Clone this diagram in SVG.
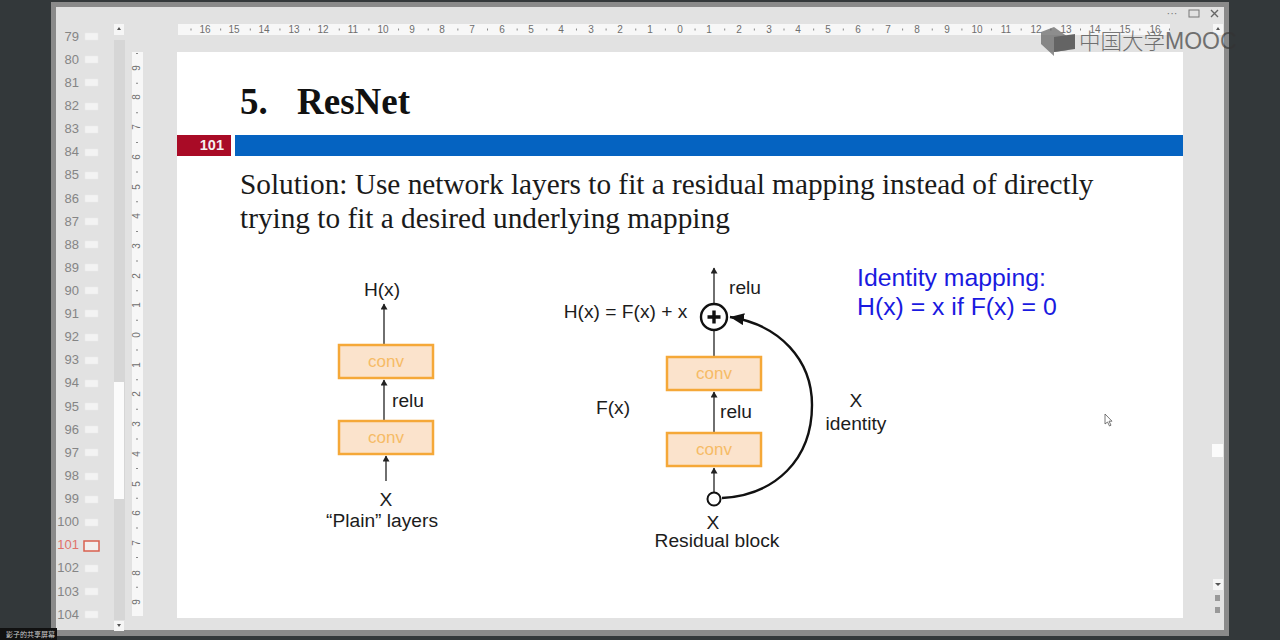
<svg xmlns="http://www.w3.org/2000/svg" width="1280" height="640" viewBox="0 0 1280 640">
<style>
.s{font-family:"Liberation Sans",Arial,sans-serif}
.num{font-family:"Liberation Sans",Arial,sans-serif;font-size:13px;fill:#858585;text-anchor:end}
.th{fill:#f3f3f3;stroke:#e9e9e9;stroke-width:.5}
.rt{font-family:"Liberation Sans",Arial,sans-serif;font-size:10px;fill:#6e6e6e;text-anchor:middle}
.lb{font-family:"Liberation Sans",Arial,sans-serif;font-size:19.2px;fill:#1c1c1c;text-anchor:middle}
.conv{fill:#fbe3cc;stroke:#f5a838;stroke-width:2.5}
.ct{font-family:"Liberation Sans",Arial,sans-serif;font-size:17px;fill:#f6bb66;text-anchor:middle}
.ln{stroke:#333;stroke-width:1.4;fill:none}
.body{font-family:"Liberation Serif","Times New Roman",serif;font-size:29.3px;fill:#1a1a1a}
</style>
<defs>
<marker id="a" markerWidth="7" markerHeight="8" refX="5.5" refY="3.5" orient="auto" markerUnits="userSpaceOnUse"><path d="M0 0L6 3.5L0 7z" fill="#222"/></marker>
<marker id="b" markerWidth="16" markerHeight="14" refX="14" refY="6" orient="auto" markerUnits="userSpaceOnUse"><path d="M0 0L14 6L0 12z" fill="#111"/></marker>
</defs>
<rect width="1280" height="640" fill="#33383a"/>
<g id="window">
<rect x="51" y="2" width="1178" height="634" fill="#8a8a8a"/>
<rect x="56" y="7" width="1168" height="623" fill="#e2e2e2"/>
<rect x="114" y="40" width="11" height="580" fill="#d6d6d6"/>
<rect x="114" y="382" width="10" height="117" fill="#fbfbfb"/>
<rect x="114" y="24" width="10" height="11" fill="#f6f6f6"/>
<rect x="114" y="621" width="10" height="10" fill="#f6f6f6"/>
<path d="M117 30l2-3 2 3zM117 624l2 3 2-3z" fill="#555"/>
<rect x="1212" y="444" width="11" height="13" fill="#fbfbfb"/>
<rect x="1213" y="579" width="10" height="11" fill="#f6f6f6"/>
<path d="M1215 583l3 3 3-3z" fill="#555"/>
<path d="M1215 595h5v6h-5zM1215 607h5v6h-5z" fill="#999"/>
<rect x="1213" y="24" width="10" height="11" fill="#f6f6f6"/>
<path d="M1216 30l2-3 2 3z" fill="#555"/>
<text x="1172" y="17" class="s" font-size="11" fill="#777" text-anchor="middle">···</text>
<rect x="1189" y="10" width="10" height="7" fill="none" stroke="#777"/>
<path d="M1211 10l7 7M1218 10l-7 7" stroke="#666" stroke-width="1.4"/>
</g>
<g id="thumbnails">
<text class="num" x="79" y="41">79</text><rect class="th" x="85" y="33" width="13" height="7"/>
<text class="num" x="79" y="64">80</text><rect class="th" x="85" y="56" width="13" height="7"/>
<text class="num" x="79" y="87">81</text><rect class="th" x="85" y="79" width="13" height="7"/>
<text class="num" x="79" y="110">82</text><rect class="th" x="85" y="103" width="13" height="7"/>
<text class="num" x="79" y="133">83</text><rect class="th" x="85" y="126" width="13" height="7"/>
<text class="num" x="79" y="156">84</text><rect class="th" x="85" y="149" width="13" height="7"/>
<text class="num" x="79" y="179">85</text><rect class="th" x="85" y="172" width="13" height="7"/>
<text class="num" x="79" y="203">86</text><rect class="th" x="85" y="195" width="13" height="7"/>
<text class="num" x="79" y="226">87</text><rect class="th" x="85" y="218" width="13" height="7"/>
<text class="num" x="79" y="249">88</text><rect class="th" x="85" y="241" width="13" height="7"/>
<text class="num" x="79" y="272">89</text><rect class="th" x="85" y="264" width="13" height="7"/>
<text class="num" x="79" y="295">90</text><rect class="th" x="85" y="287" width="13" height="7"/>
<text class="num" x="79" y="318">91</text><rect class="th" x="85" y="310" width="13" height="7"/>
<text class="num" x="79" y="341">92</text><rect class="th" x="85" y="334" width="13" height="7"/>
<text class="num" x="79" y="364">93</text><rect class="th" x="85" y="357" width="13" height="7"/>
<text class="num" x="79" y="387">94</text><rect class="th" x="85" y="380" width="13" height="7"/>
<text class="num" x="79" y="411">95</text><rect class="th" x="85" y="403" width="13" height="7"/>
<text class="num" x="79" y="434">96</text><rect class="th" x="85" y="426" width="13" height="7"/>
<text class="num" x="79" y="457">97</text><rect class="th" x="85" y="449" width="13" height="7"/>
<text class="num" x="79" y="480">98</text><rect class="th" x="85" y="473" width="13" height="7"/>
<text class="num" x="79" y="503">99</text><rect class="th" x="85" y="496" width="13" height="7"/>
<text class="num" x="79" y="526">100</text><rect class="th" x="85" y="519" width="13" height="7"/>
<text class="num" x="79" y="549" style="fill:#e0736a">101</text><rect x="84" y="541" width="15" height="10" fill="#f2efee" stroke="#d9604f" stroke-width="1.5"/>
<text class="num" x="79" y="572">102</text><rect class="th" x="85" y="565" width="13" height="7"/>
<text class="num" x="79" y="596">103</text><rect class="th" x="85" y="588" width="13" height="7"/>
<text class="num" x="79" y="619">104</text><rect class="th" x="85" y="611" width="13" height="7"/>
</g>
<g id="ruler-top">
<rect x="178" y="24" width="992" height="11" fill="#f7f7f7"/>
<path d="M190.500 29.500H1170" stroke="#888" stroke-width="2" stroke-dasharray="1 28.65" fill="none"/>
<text class="rt" x="205" y="33">16</text><text class="rt" x="234" y="33">15</text><text class="rt" x="264" y="33">14</text><text class="rt" x="294" y="33">13</text><text class="rt" x="323" y="33">12</text><text class="rt" x="353" y="33">11</text><text class="rt" x="383" y="33">10</text><text class="rt" x="412" y="33">9</text><text class="rt" x="442" y="33">8</text><text class="rt" x="472" y="33">7</text><text class="rt" x="502" y="33">6</text><text class="rt" x="531" y="33">5</text><text class="rt" x="561" y="33">4</text><text class="rt" x="591" y="33">3</text><text class="rt" x="620" y="33">2</text><text class="rt" x="650" y="33">1</text><text class="rt" x="680" y="33">0</text><text class="rt" x="709" y="33">1</text><text class="rt" x="739" y="33">2</text><text class="rt" x="769" y="33">3</text><text class="rt" x="798" y="33">4</text><text class="rt" x="828" y="33">5</text><text class="rt" x="858" y="33">6</text><text class="rt" x="888" y="33">7</text><text class="rt" x="917" y="33">8</text><text class="rt" x="947" y="33">9</text><text class="rt" x="977" y="33">10</text><text class="rt" x="1006" y="33">11</text><text class="rt" x="1036" y="33">12</text><text class="rt" x="1066" y="33">13</text><text class="rt" x="1095" y="33">14</text><text class="rt" x="1125" y="33">15</text><text class="rt" x="1155" y="33">16</text>
</g>
<g id="ruler-left">
<rect x="132" y="52" width="11" height="564" fill="#f7f7f7"/>
<path d="M137 53V616" stroke="#888" stroke-width="2" stroke-dasharray="1 28.65" fill="none"/>
<text class="rt" transform="translate(140 68) rotate(-90)">9</text><text class="rt" transform="translate(140 97) rotate(-90)">8</text><text class="rt" transform="translate(140 127) rotate(-90)">7</text><text class="rt" transform="translate(140 157) rotate(-90)">6</text><text class="rt" transform="translate(140 187) rotate(-90)">5</text><text class="rt" transform="translate(140 216) rotate(-90)">4</text><text class="rt" transform="translate(140 246) rotate(-90)">3</text><text class="rt" transform="translate(140 276) rotate(-90)">2</text><text class="rt" transform="translate(140 305) rotate(-90)">1</text><text class="rt" transform="translate(140 335) rotate(-90)">0</text><text class="rt" transform="translate(140 365) rotate(-90)">1</text><text class="rt" transform="translate(140 394) rotate(-90)">2</text><text class="rt" transform="translate(140 424) rotate(-90)">3</text><text class="rt" transform="translate(140 454) rotate(-90)">4</text><text class="rt" transform="translate(140 484) rotate(-90)">5</text><text class="rt" transform="translate(140 513) rotate(-90)">6</text><text class="rt" transform="translate(140 543) rotate(-90)">7</text><text class="rt" transform="translate(140 573) rotate(-90)">8</text><text class="rt" transform="translate(140 602) rotate(-90)">9</text>
</g>
<g id="slide">
<rect x="177" y="52" width="1006" height="566" fill="#fff"/>
<rect x="177" y="135" width="54" height="21" fill="#a90b26"/>
<text x="224" y="150" class="s" font-size="14.5" font-weight="700" fill="#f4f0f0" text-anchor="end">101</text>
<rect x="235" y="135" width="948" height="21" fill="#0563c1"/>
<text x="240" y="114" font-family="'Liberation Serif','Times New Roman',serif" font-size="37" font-weight="700" fill="#111">5.</text>
<text x="297" y="114" font-family="'Liberation Serif','Times New Roman',serif" font-size="37" font-weight="700" fill="#111">ResNet</text>
<text class="body" x="240" y="194">Solution: Use network layers to fit a residual mapping instead of directly</text>
<text class="body" x="240" y="228">trying to fit a desired underlying mapping</text>
<text x="857" y="286" class="s" font-size="24.8" fill="#1a1ae0">Identity mapping:</text>
<text x="857" y="315" class="s" font-size="24.8" fill="#1a1ae0">H(x) = x if F(x) = 0</text>
</g>
<g id="connectors">
<path class="ln" d="M384 344V304" marker-end="url(#a)"/>
<path class="ln" d="M384 420V380" marker-end="url(#a)"/>
<path class="ln" d="M386 481V456" stroke-width="1.8" marker-end="url(#a)"/>
<path class="ln" d="M714 303V268" marker-end="url(#a)"/>
<path class="ln" d="M714 356V330"/>
<path class="ln" d="M714 432V392" marker-end="url(#a)"/>
<path class="ln" d="M714 492V468" marker-end="url(#a)"/>
<path d="M722 498C775 495 812 460 812 405C812 360 780 325 730 317" fill="none" stroke="#111" stroke-width="2.4" marker-end="url(#b)"/>
</g>
<g id="plain-top"><rect class="conv" x="339" y="345" width="94" height="33"/><text class="ct" x="386" y="367">conv</text></g>
<g id="plain-bottom"><rect class="conv" x="339" y="421" width="94" height="33"/><text class="ct" x="386" y="443">conv</text></g>
<g id="res-top"><rect class="conv" x="667" y="357" width="94" height="33"/><text class="ct" x="714" y="379">conv</text></g>
<g id="res-bottom"><rect class="conv" x="667" y="433" width="94" height="33"/><text class="ct" x="714" y="455">conv</text></g>
<g id="plus"><circle cx="714" cy="317" r="13" fill="#fff" stroke="#111" stroke-width="2.4"/><path d="M714 310.500V323.500M707.500 317H720.500" stroke="#111" stroke-width="3.400"/></g>
<g id="input"><circle cx="714" cy="499" r="6.500" fill="#fff" stroke="#111" stroke-width="2"/></g>
<g id="labels">
<text class="lb" x="382" y="296">H(x)</text>
<text class="lb" x="408" y="407">relu</text>
<text class="lb" x="386" y="506">X</text>
<text class="lb" x="382" y="527">“Plain” layers</text>
<text class="lb" x="745" y="294">relu</text>
<text class="lb" x="625.500" y="318">H(x) = F(x) + x</text>
<text class="lb" x="613" y="414">F(x)</text>
<text class="lb" x="736" y="418">relu</text>
<text class="lb" x="856" y="407">X</text>
<text class="lb" x="856" y="430">identity</text>
<text class="lb" x="713" y="529">X</text>
<text class="lb" x="717" y="547">Residual block</text>
</g>
<g id="logo" opacity="0.65">
<path d="M1041 32L1054 27L1068 37L1068 50L1054 52L1054 56L1041 44z" fill="#555"/>
<path d="M1054 37L1075 34L1075 49L1054 52z" fill="#222"/>
<text x="1079" y="49" font-family="'Noto Sans CJK SC','Liberation Sans',sans-serif" font-size="21.500" font-weight="300" fill="#333">中国大学</text>
<text x="1165" y="49" font-family="'Liberation Sans',sans-serif" font-size="23" fill="#333">MOOC</text>
</g>
<g id="caption"><rect x="0" y="628" width="57" height="12" fill="#111"/><text x="6" y="637" font-family="'Noto Sans CJK SC',sans-serif" font-size="7" fill="#ccc">影子的共享屏幕</text></g>
<g id="cursor"><path d="M1105 414v10l2.500-2 2 4 1.500-.8-2-4h3z" fill="#fff" stroke="#555" stroke-width=".8"/></g>
</svg>
